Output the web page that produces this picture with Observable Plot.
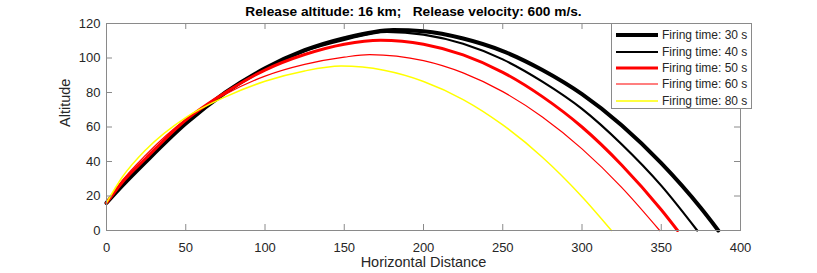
<!DOCTYPE html>
<html>
<head>
<meta charset="utf-8">
<script src="https://cdn.jsdelivr.net/npm/d3@7"></script>
<script src="https://cdn.jsdelivr.net/npm/@observablehq/plot@0.6"></script>
<style>
  body { margin: 0; background: #fff; font-family: "Liberation Sans", Arial, Helvetica, sans-serif; }
  #wrap { position: relative; width: 817px; height: 273px; }
  #legend { position: absolute; left: 611px; top: 23px; width: 141px; height: 86px; border: 1px solid #8a8a8a; background: #fff; box-sizing: border-box; }
  .row { position: absolute; left: 3px; height: 16px; display: flex; align-items: center; font-size: 12px; color: #262626; white-space: nowrap; }
  .row svg { margin-right: 4px; }
</style>
</head>
<body>
<div id="wrap"><div id="legend"></div></div>
<script>
const titleText = "Release altitude: 16 km;   Release velocity: 600 m/s.";
const xLabel = "Horizontal Distance";
const yLabel = "Altitude";
const xTicks = [0, 50, 100, 150, 200, 250, 300, 350, 400];
const yTicks = [0, 20, 40, 60, 80, 100, 120];

const seriesNames = ["Firing time: 30 s", "Firing time: 40 s", "Firing time: 50 s", "Firing time: 60 s", "Firing time: 80 s"];

const x30 = [0, 10, 25, 50, 75, 100, 125, 150, 181, 200, 225, 250, 275, 300, 325, 350, 375, 386];
const y30 = [16, 26, 40, 62, 80, 94, 104.5, 111.5, 116.3, 115.5, 111.3, 104, 93, 79, 61, 39, 13, 0];

const x40 = [0, 10, 25, 50, 75, 100, 125, 150, 177, 200, 225, 250, 275, 300, 325, 350, 372.7];
const y40 = [16, 27, 41, 63, 80, 94, 104, 110.5, 115.2, 113.6, 108.3, 99.2, 86.3, 70.5, 50, 26, 0];

const x50 = [0, 10, 25, 50, 75, 100, 125, 150, 173, 200, 225, 250, 275, 300, 325, 350, 360.3];
const y50 = [16, 28, 42, 64, 80, 93, 102, 108, 110.3, 108, 101.8, 91.7, 77.6, 60, 38, 12, 0];

const x60 = [0, 10, 25, 50, 75, 100, 125, 150, 166, 200, 225, 250, 275, 300, 325, 349];
const y60 = [16, 29, 44, 64.5, 79, 89.5, 96.3, 100.5, 102, 98.5, 91.4, 80.5, 65.8, 47.3, 25, 0];

const x80 = [0, 10, 25, 50, 75, 100, 125, 148, 175, 200, 225, 250, 275, 300, 318.6];
const y80 = [16, 31, 47, 65.5, 77.5, 86.5, 92.5, 95.3, 92.9, 86.4, 75.9, 61.2, 42.5, 19.6, 0];

const seriesX = [x30, x40, x50, x60, x80];
const seriesY = [y30, y40, y50, y60, y80];
const styles = [
  {stroke: "#000000", width: 4},
  {stroke: "#000000", width: 2.2},
  {stroke: "#ff0000", width: 3},
  {stroke: "#ff0000", width: 1.2},
  {stroke: "#ffff00", width: 1.5}
];

const data = seriesNames.map((name, i) => seriesX[i].map((x, j) => ({name, x, y: seriesY[i][j]})));

const W = 817, H = 273, mL = 106, mR = 77, mT = 23, mB = 43;
const pw = W - mL - mR, ph = H - mT - mB;
const axisGray = "#8a8a8a";
const textCol = "#262626";
const font = "Liberation Sans, Arial, Helvetica, sans-serif";

const lineMarks = data.map((d, i) => Plot.line(d, {x: "x", y: "y", stroke: styles[i].stroke, strokeWidth: styles[i].width, curve: "monotone-x", strokeLinejoin: "round"}));

const chart = Plot.plot({
  width: W, height: H,
  marginLeft: mL, marginRight: mR, marginTop: mT, marginBottom: mB,
  style: {fontFamily: font, background: "transparent", color: textCol},
  x: {domain: [0, 400]},
  y: {domain: [0, 120]},
  marks: [
    ...lineMarks,
    Plot.frame({stroke: axisGray, strokeWidth: 1}),
    Plot.tickX(xTicks, {x: d => d, stroke: axisGray, insetTop: ph - 6}),
    Plot.tickX(xTicks, {x: d => d, stroke: axisGray, insetBottom: ph - 6}),
    Plot.tickY(yTicks, {y: d => d, stroke: axisGray, insetRight: pw - 6}),
    Plot.tickY(yTicks, {y: d => d, stroke: axisGray, insetLeft: pw - 6}),
    Plot.axisX(xTicks, {anchor: "bottom", tickSize: 0, tickPadding: 12, fontSize: 13, label: null, fill: textCol}),
    Plot.axisY(yTicks, {anchor: "left", tickSize: 0, tickPadding: 6, fontSize: 13, label: null, fill: textCol}),
    Plot.text([xLabel], {frameAnchor: "bottom", lineAnchor: "middle", dy: 32, text: d => d, fontSize: 14.5, fill: textCol}),
    Plot.text([yLabel], {frameAnchor: "left", lineAnchor: "middle", dx: -41, rotate: -90, text: d => d, fontSize: 14.5, fill: textCol}),
    Plot.text([titleText], {frameAnchor: "top", lineAnchor: "middle", dy: -12, dx: -10, text: d => d, fontSize: 13.7, fontWeight: "bold", fill: "#000"})
  ]
});

const wrap = document.getElementById("wrap");
wrap.insertBefore(chart, wrap.firstChild);
chart.style.position = "absolute";
chart.style.left = "0px";
chart.style.top = "0px";

const legend = document.getElementById("legend");
const rowTops = [3, 19.5, 36, 52, 68.5];
seriesNames.forEach((name, i) => {
  const row = document.createElement("div");
  row.className = "row";
  row.style.top = rowTops[i] + "px";
  const ns = "http://www.w3.org/2000/svg";
  const s = document.createElementNS(ns, "svg");
  s.setAttribute("width", 43);
  s.setAttribute("height", 16);
  const l = document.createElementNS(ns, "line");
  l.setAttribute("x1", 1); l.setAttribute("x2", 43);
  l.setAttribute("y1", 8); l.setAttribute("y2", 8);
  l.setAttribute("stroke", styles[i].stroke);
  l.setAttribute("stroke-width", styles[i].width);
  s.appendChild(l);
  row.appendChild(s);
  const t = document.createElement("span");
  t.textContent = name;
  row.appendChild(t);
  legend.appendChild(row);
});
</script>
</body>
</html>
